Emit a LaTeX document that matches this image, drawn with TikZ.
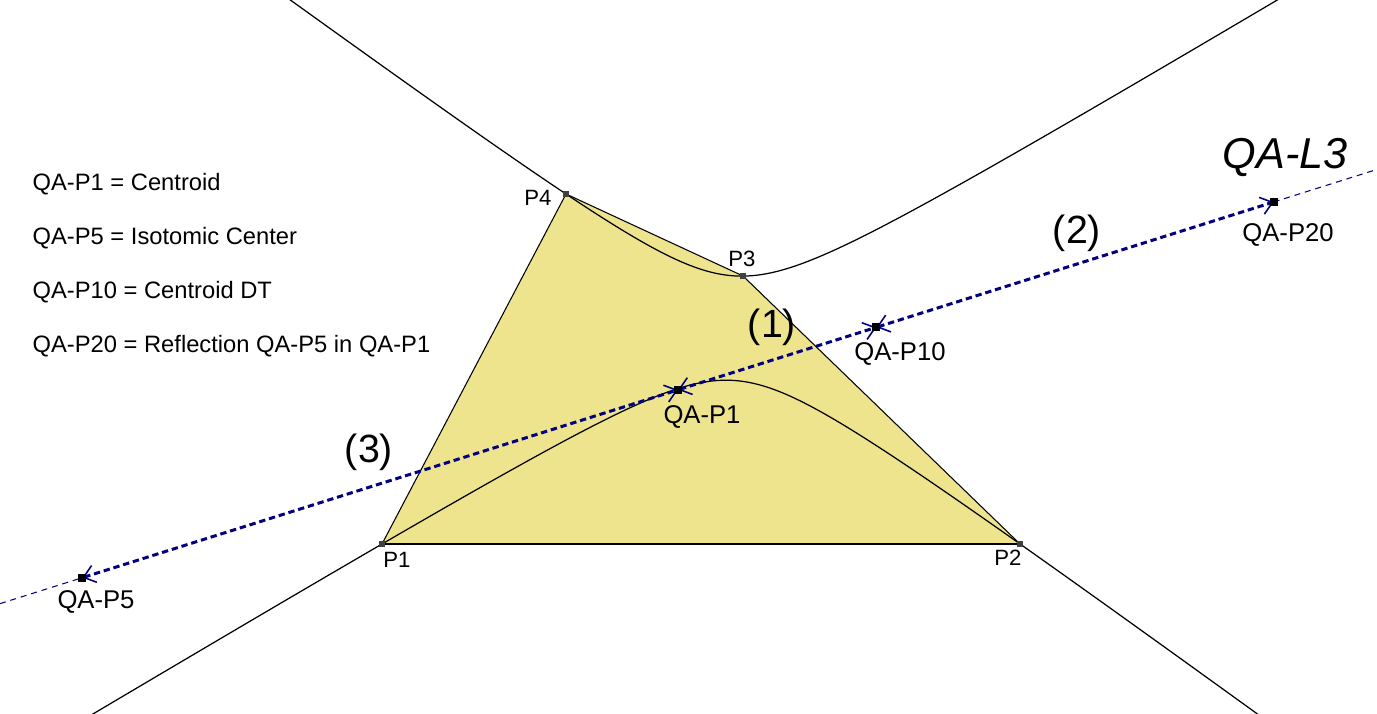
\documentclass[tikz,border=0pt]{standalone}
\usepackage{fontspec}
\setmainfont{Liberation Sans}
\usetikzlibrary{arrows.meta,calc}
\definecolor{quadfill}{RGB}{238,228,142}
\definecolor{linenavy}{RGB}{0,0,128}
\begin{document}
\begin{tikzpicture}[
  edge/.style={black, line width=0.3pt},
  conic/.style={black, line width=0.35pt},
  thinline/.style={linenavy, line width=0.3pt, dash pattern=on 1.7pt off 1.4pt},
  thickline/.style={linenavy, line width=0.85pt, dash pattern=on 1.8pt off 1.1pt,
    >={Straight Barb[length=3.2pt,width=5pt,line width=0.45pt]}, <->},
  vtx/.style={rectangle, fill=black!75, minimum size=0.055cm, inner sep=0pt},
  qpt/.style={rectangle, fill=black, minimum size=0.08cm, inner sep=0pt},
  lbl/.style={font=\fontsize{7.3}{8}\selectfont, inner sep=0pt},
  vlbl/.style={font=\fontsize{6.3}{7}\selectfont, inner sep=0pt},
  legend/.style={font=\fontsize{6.75}{7.5}\selectfont, inner sep=0pt, anchor=west},
  big/.style={font=\fontsize{11.2}{13}\selectfont, inner sep=0pt},
  title/.style={font=\fontsize{12.3}{14}\selectfont\itshape, inner sep=0pt},
  declare function={
    qb(\x)=1.69+(-0.4633*\x+7.812)+0.31*((1.902*\x-5.576)+(-0.9675*\x+11.559));
    qc(\x)=1.69*(-0.4633*\x+7.812)+0.31*(1.902*\x-5.576)*(-0.9675*\x+11.559);
    yup(\x)=(qb(\x)+sqrt(qb(\x)^2-5.24*qc(\x)))/2.62;
    ylo(\x)=(qb(\x)-sqrt(qb(\x)^2-5.24*qc(\x)))/2.62;
  }
]
\useasboundingbox (0,0) rectangle (13.77,7.13);

% quadrilateral vertices
\coordinate (P1) at (3.82,1.69);
\coordinate (P2) at (10.20,1.69);
\coordinate (P3) at (7.43,4.37);
\coordinate (P4) at (5.66,5.19);

% points on QA-L3
\coordinate (QP5) at (0.823,1.353);
\coordinate (QP20) at (12.737,5.110);
\coordinate (QP1) at ($(QP5)!0.5!(QP20)$);
\coordinate (QP10) at ($(QP5)!0.6665!(QP20)$);
\coordinate (Lleft) at ($(QP5)!-0.0691!(QP20)$);
\coordinate (Lright) at ($(QP20)!-0.0867!(QP5)$);

% filled quadrilateral
\fill[quadfill] (P1) -- (P2) -- (P3) -- (P4) -- cycle;
\draw[edge] (P1) -- (P2);
\draw[edge] (P2) -- (P3);
\draw[edge] (P3) -- (P4);
\draw[edge] (P4) -- (P1);

% hyperbola through P1..P4
\begin{scope}
  \clip (0,0) rectangle (13.77,7.13);
  \draw[conic] plot[domain=0:13.77, samples=400, variable=\x] (\x,{yup(\x)});
  \draw[conic] plot[domain=0:13.77, samples=400, variable=\x] (\x,{ylo(\x)});
\end{scope}

% line QA-L3
\draw[thinline] (Lleft) -- (QP5);
\draw[thinline] (QP20) -- (Lright);
\draw[thickline] (QP5) -- (QP1);
\draw[thickline] (QP1) -- (QP10);
\draw[thickline] (QP10) -- (QP20);

% point markers
\node[vtx] (m1) at (P1) {};
\node[vtx] (m2) at (P2) {};
\node[vtx] (m3) at (P3) {};
\node[vtx] (m4) at (P4) {};
\node[qpt] (n5) at (QP5) {};
\node[qpt] (n1) at (QP1) {};
\node[qpt] (n10) at (QP10) {};
\node[qpt] (n20) at (QP20) {};

% vertex labels
\node[vlbl] (t1) at (3.97,1.53) {P1};
\node[vlbl] (t2) at (10.08,1.55) {P2};
\node[vlbl] (t3) at (7.42,4.54) {P3};
\node[vlbl] (t4) at (5.38,5.15) {P4};

% point labels
\node[lbl] (l5) at (0.96,1.11) {QA-P5};
\node[lbl] (l1) at (7.02,2.96) {QA-P1};
\node[lbl] (l10) at (9.00,3.59) {QA-P10};
\node[lbl] (l20) at (12.88,4.78) {QA-P20};

\node[title] (ttl) at (12.85,5.56) {QA-L3};
\node[big] (b1) at (7.72,3.86) {(1)};
\node[big] (b2) at (10.77,4.80) {(2)};
\node[big] (b3) at (3.69,2.61) {(3)};

% legend
\node[legend] (g1) at (0.32,5.29) {QA-P1 = Centroid};
\node[legend] (g2) at (0.32,4.75) {QA-P5 = Isotomic Center};
\node[legend] (g3) at (0.32,4.21) {QA-P10 = Centroid DT};
\node[legend] (g4) at (0.32,3.67) {QA-P20 = Reflection QA-P5 in QA-P1};
\end{tikzpicture}
\end{document}
